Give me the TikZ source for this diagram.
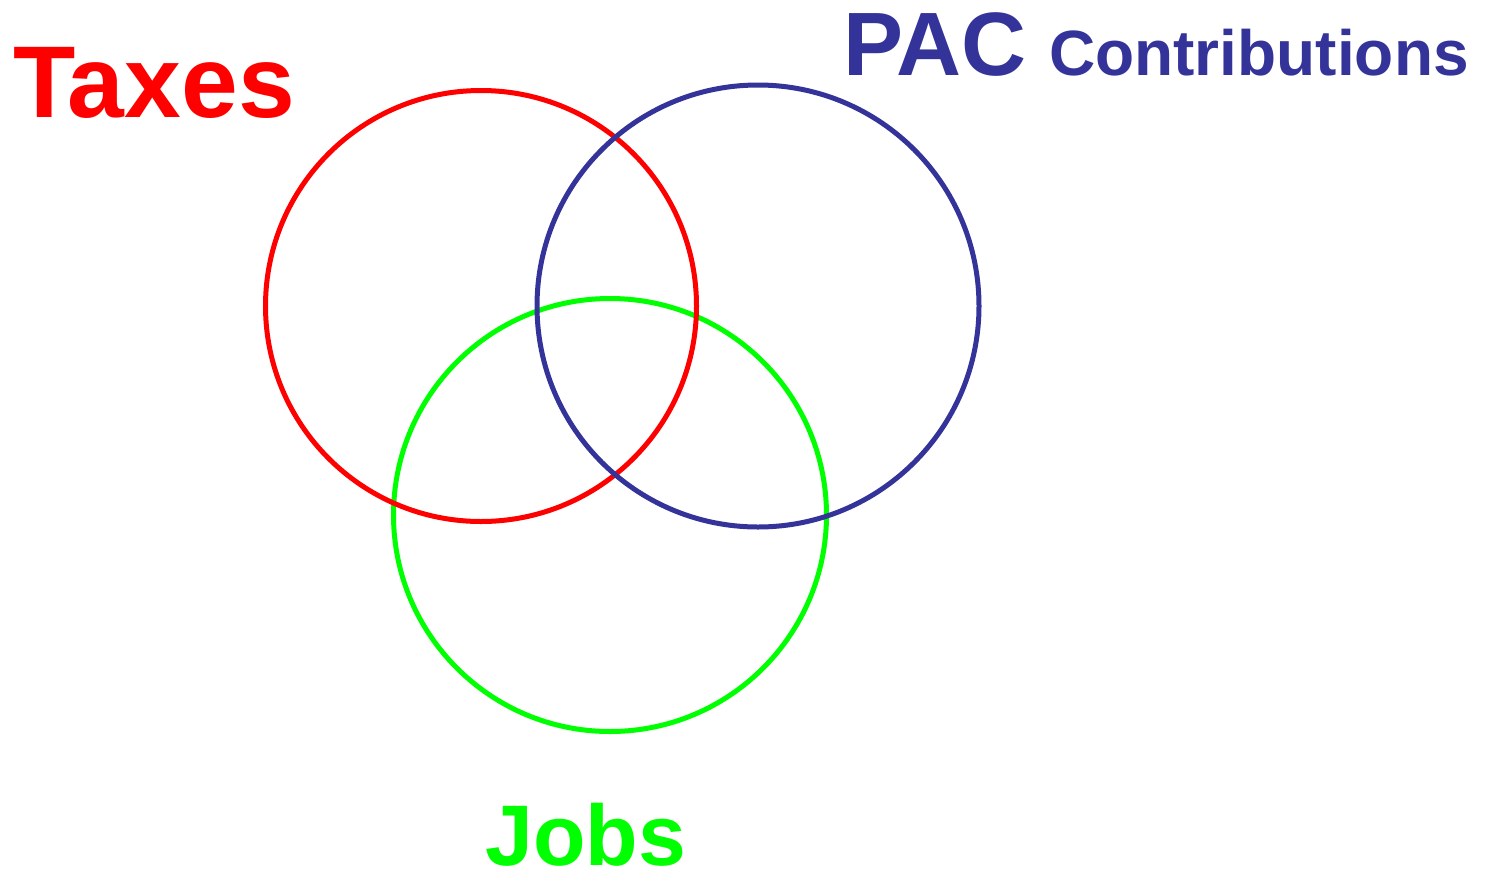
\documentclass[tikz,border=0pt]{standalone}
\usepackage{fontspec}
\setmainfont{Liberation Sans}
\definecolor{taxred}{RGB}{255,0,0}
\definecolor{pacblue}{RGB}{51,51,153}
\definecolor{jobgreen}{RGB}{0,255,0}
\tikzset{
  ring/.style={draw, line width=5pt, fill=none},
  label/.style={inner sep=0pt, anchor=base west, font=\bfseries}
}
\begin{document}
\begin{tikzpicture}[x=1pt,y=-1pt]
\useasboundingbox (0,0) rectangle (1487,873);
% circles (green below, red, blue on top)
\draw[ring, jobgreen] (610,515) circle[radius=216.5];
\draw[ring, taxred] (481,306) circle[radius=215.5];
\draw[ring, pacblue] (758,306) circle[radius=221];
% labels
\node[label, text=taxred, font=\bfseries\fontsize{102}{102}\selectfont] (taxes) at (13,117) {Taxes};
\node[label, text=pacblue, font=\bfseries\fontsize{90}{90}\selectfont] (pac) at (843,75) {PAC};
\node[label, text=pacblue, font=\bfseries\fontsize{64}{64}\selectfont] (contrib) at (1049,75) {Contributions};
\node[label, text=jobgreen, font=\bfseries\fontsize{86}{86}\selectfont] (jobs) at (485,865) {Jobs};
\end{tikzpicture}
\end{document}
